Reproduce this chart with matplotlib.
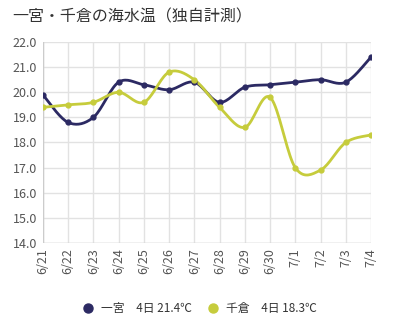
import numpy as np
import matplotlib.pyplot as plt
from matplotlib.lines import Line2D

plt.rcParams['font.family'] = ['Noto Sans CJK JP', 'DejaVu Sans']

dates = ["6/21", "6/22", "6/23", "6/24", "6/25", "6/26", "6/27",
         "6/28", "6/29", "6/30", "7/1", "7/2", "7/3", "7/4"]
ichinomiya = [19.9, 18.8, 19.0, 20.4, 20.3, 20.1, 20.4,
              19.6, 20.2, 20.3, 20.4, 20.5, 20.4, 21.4]
chikura = [19.4, 19.5, 19.6, 20.0, 19.6, 20.8, 20.5,
           19.4, 18.6, 19.8, 17.0, 16.9, 18.0, 18.3]

navy = "#2c2a63"
lime = "#c6cc3c"


def smooth(xs, ys, n=20, t=0.5):
    # cardinal spline through the points
    xs = np.asarray(xs, float)
    ys = np.asarray(ys, float)
    px = np.concatenate([[xs[0]], xs, [xs[-1]]])
    py = np.concatenate([[ys[0]], ys, [ys[-1]]])
    ox, oy = [], []
    for i in range(1, len(px) - 2):
        m0x = t * (px[i + 1] - px[i - 1]); m0y = t * (py[i + 1] - py[i - 1])
        m1x = t * (px[i + 2] - px[i]); m1y = t * (py[i + 2] - py[i])
        s = np.linspace(0, 1, n)
        h00 = 2*s**3 - 3*s**2 + 1
        h10 = s**3 - 2*s**2 + s
        h01 = -2*s**3 + 3*s**2
        h11 = s**3 - s**2
        ox.extend(h00*px[i] + h10*m0x + h01*px[i+1] + h11*m1x)
        oy.extend(h00*py[i] + h10*m0y + h01*py[i+1] + h11*m1y)
    return ox, oy


fig = plt.figure(figsize=(3.93, 3.31), dpi=100)
ax = fig.add_axes([0.109, 0.266, 0.835, 0.607])

x = np.arange(len(dates))
for ys, c in [(ichinomiya, navy), (chikura, lime)]:
    sx, sy = smooth(x, ys)
    ax.plot(sx, sy, color=c, lw=2, zorder=3, solid_capstyle='round')
    ax.plot(x, ys, 'o', color=c, ms=3.5, zorder=4)

ax.set_xlim(0, len(dates) - 1)
ax.set_ylim(14, 22)
ax.set_yticks(np.arange(14, 22.1, 1))
ax.set_yticklabels([f"{v:.1f}" for v in np.arange(14, 22.1, 1)])
ax.set_xticks(x)
ax.set_xticklabels(dates, rotation=90)
ax.tick_params(length=0, labelsize=9, colors="#555555", pad=4)
ax.grid(True, color="#e2e2e2", lw=1)
ax.set_axisbelow(True)
for s in ax.spines.values():
    s.set_visible(False)
ax.axhline(14, color="#cccccc", lw=1, zorder=2)
ax.axvline(0, color="#cccccc", lw=1, zorder=2)

fig.text(0.03, 0.948, "一宮・千倉の海水温（独自計測）", fontsize=11.5, color="#333333",
         va="center", ha="left")

handles = [Line2D([], [], ls='', marker='o', ms=6.5, color=navy),
           Line2D([], [], ls='', marker='o', ms=6.5, color=lime)]
labels = [f"一宮　4日 {ichinomiya[-1]}℃", f"千倉　4日 {chikura[-1]}℃"]
fig.legend(handles, labels, loc="center", bbox_to_anchor=(0.5, 0.067), ncol=2,
           frameon=False, fontsize=8.5, handletextpad=0.1, columnspacing=0.8,
           labelcolor="#333333")

fig.savefig("out.png", dpi=100)
